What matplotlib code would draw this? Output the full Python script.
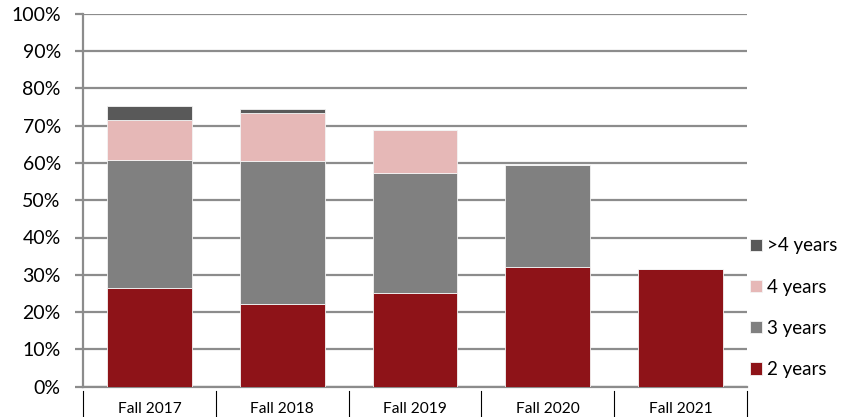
import matplotlib
matplotlib.use("Agg")
from matplotlib import pyplot as plt
import numpy as np

terms = ["Fall 2017", "Fall 2018", "Fall 2019", "Fall 2020", "Fall 2021"]
two_years = [26.4, 22.3, 25.0, 32.0, 31.5]
three_years = [34.5, 38.3, 32.3, 27.4, 0]
four_years = [10.6, 12.9, 11.5, 0, 0]
over_four = [3.8, 1.0, 0, 0, 0]

series = [
    ("2 years", two_years, "#8E1318"),
    ("3 years", three_years, "#808080"),
    ("4 years", four_years, "#E6B8B7"),
    (">4 years", over_four, "#595959"),
]


def main():
    plt.rcParams["font.family"] = ["Lato", "DejaVu Sans"]
    fig = plt.figure(figsize=(8.57, 4.17), dpi=100)
    ax = fig.add_axes([83 / 857, 30.3 / 417, (747 - 83) / 857, 373 / 417])

    x = np.arange(len(terms))
    bottom = np.zeros(len(terms))
    handles = []
    for label, vals, color in series:
        vals = np.array(vals, dtype=float)
        b = ax.bar(x, vals, 0.64, bottom=bottom, color=color, label=label,
                   edgecolor="#f4f4f4", linewidth=0.6, zorder=3)
        handles.append(b)
        bottom += vals

    ax.set_xlim(-0.5, len(terms) - 0.5)
    ax.set_ylim(0, 100)
    ax.set_yticks(range(0, 101, 10))
    ax.set_yticklabels([f"{v}%" for v in range(0, 101, 10)], fontsize=14)
    ax.yaxis.grid(True, color="#8c8c8c", linewidth=1.6, zorder=0)
    ax.tick_params(axis="y", length=6, width=1.6, color="#8c8c8c", pad=10)
    ax.tick_params(axis="x", length=0)
    ax.set_xticks([])

    for side in ["top", "right"]:
        ax.spines[side].set_visible(False)
    ax.spines["left"].set_color("#8c8c8c")
    ax.spines["left"].set_linewidth(1.6)
    ax.spines["bottom"].set_color("#8c8c8c")
    ax.spines["bottom"].set_linewidth(1.6)

    # category boxes below the axis
    trans = ax.get_xaxis_transform()
    for i in range(len(terms) + 1):
        ax.plot([i - 0.5, i - 0.5], [-0.011, -0.09], color="black", lw=0.8,
                transform=trans, clip_on=False)
    for i, t in enumerate(terms):
        ax.text(i, -0.06, t, transform=trans, ha="center", va="center", fontsize=11.2)

    fig.legend(handles[::-1], [s[0] for s in series][::-1],
               loc="upper left", bbox_to_anchor=(742 / 857, 1 - 230 / 417),
               frameon=False, fontsize=13.5, handlelength=0.64, handleheight=0.64,
               handletextpad=0.3, labelspacing=1.29, borderaxespad=0)

    fig.savefig("out.png", dpi=100)


if __name__ == "__main__":
    main()
